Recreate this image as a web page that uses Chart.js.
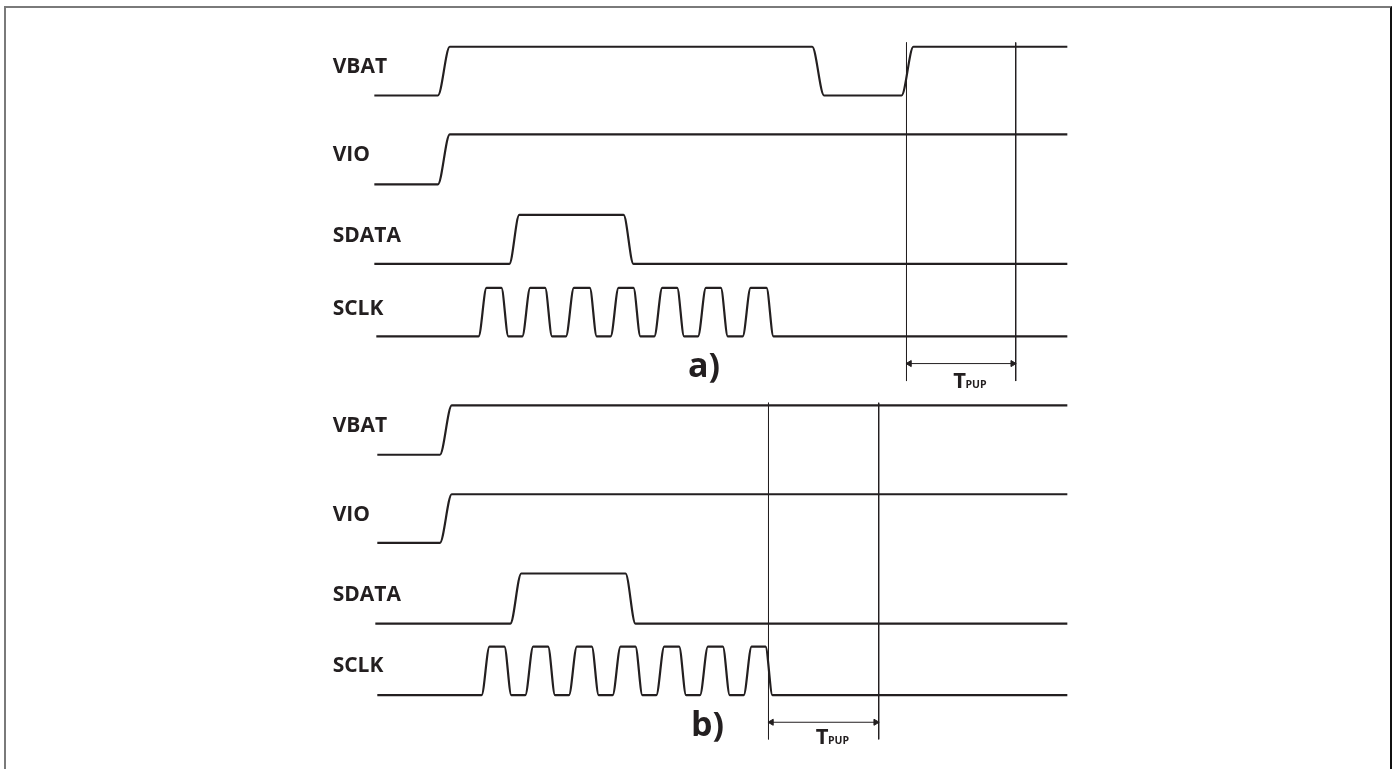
<!DOCTYPE html>
<html>
<head>
<meta charset="utf-8">
<title>Power-up timing</title>
<script src="https://cdn.jsdelivr.net/npm/chart.js@4.4.1/dist/chart.umd.min.js"></script>
<style>
  html, body { margin: 0; padding: 0; background: #fff; overflow: hidden; }
  #wrap { position: relative; width: 1395px; height: 769px; overflow: hidden; }
  #frame {
    position: absolute; left: 4px; top: 6px; width: 1384px; height: 780px;
    border-top: 2px solid #7a7a7a; border-left: 2px solid #7a7a7a; border-right: 2px solid #111;
  }
  canvas { position: absolute; left: 0; top: 0; }
</style>
</head>
<body>
<div id="wrap">
  <div id="frame"></div>
  <canvas id="timing" width="1395" height="769"></canvas>
</div>
<script>
// Signal breakpoints (time) and logic levels (0 = low, 1 = high)
// case a)
var vbatA_t  = [372, 436, 448, 813, 825, 903, 915, 1070];
var vbatA_v  = [0, 0, 1, 1, 0, 0, 1, 1];
var vioA_t   = [372, 436, 448, 1070];
var vioA_v   = [0, 0, 1, 1];
var sdataA_t = [372, 508, 518, 623, 633, 1070];
var sdataA_v = [0, 0, 1, 1, 0, 0];
var sclkA_t  = [374, 477, 485, 500, 507, 521, 529, 544, 551, 565, 573, 589, 596, 610, 618, 633, 640,
                654, 662, 677, 684, 698, 706, 721, 728, 743, 751, 767, 774, 1070];
var sclkA_v  = [0, 0, 1, 1, 0, 0, 1, 1, 0, 0, 1, 1, 0, 0, 1, 1, 0,
                0, 1, 1, 0, 0, 1, 1, 0, 0, 1, 1, 0, 0];
var tpupA    = [908, 1018];

// case b)
var vbatB_t  = [375, 438, 450, 1070];
var vbatB_v  = [0, 0, 1, 1];
var vioB_t   = [375, 438, 450, 1070];
var vioB_v   = [0, 0, 1, 1];
var sdataB_t = [373, 509, 520, 625, 635, 1070];
var sdataB_v = [0, 0, 1, 1, 0, 0];
var sclkB_t  = [375, 480, 488, 503, 510, 524, 532, 547, 554, 568, 576, 591, 598, 612, 620, 635, 642,
                656, 664, 679, 686, 700, 708, 723, 730, 744, 752, 766, 773, 1070];
var sclkB_v  = [0, 0, 1, 1, 0, 0, 1, 1, 0, 0, 1, 1, 0, 0, 1, 1, 0,
                0, 1, 1, 0, 0, 1, 1, 0, 0, 1, 1, 0, 0];
var tpupB    = [769, 880];

var signalNames = ["VBAT", "VIO", "SDATA", "SCLK"];
var caseLabels = ["a)", "b)"];
var tpupLabel = ["T", "PUP"];

// layout: low / high rail of each row (canvas units)
var rowsA = [{ low: 91.7, high: 42.3, text: 62.7 }, { low: 181.7, high: 131, text: 151.7 },
             { low: 262.3, high: 212.7, text: 234 }, { low: 335.7, high: 286.7, text: 308 }];
var rowsB = [{ low: 455.7, high: 405.7, text: 427 }, { low: 545, high: 495.7, text: 516.7 },
             { low: 626.7, high: 576, text: 598 }, { low: 699.3, high: 650, text: 670 }];

var ink = "#231f20";

function signal(times, levels, row) {
    return {
        data: times.map(function (t, i) {
            return { x: t, y: levels[i] ? row.high : row.low };
        }),
        borderColor: ink,
        borderWidth: 2.2,
        pointRadius: 0,
        cubicInterpolationMode: "monotone",
        fill: false
    };
}

function marker(x, top, bottom) {
    return {
        data: [{ x: x, y: top }, { x: x, y: bottom }],
        borderColor: ink,
        borderWidth: 1,
        pointRadius: 0,
        fill: false
    };
}

function arrow(span, y) {
    return {
        data: [{ x: span[0] + 3, y: y }, { x: span[1] - 3, y: y }],
        borderColor: ink,
        backgroundColor: ink,
        borderWidth: 1,
        pointStyle: "triangle",
        pointRadius: 3.5,
        pointRotation: [-90, 90],
        fill: false
    };
}

var datasets = [
    signal(vbatA_t, vbatA_v, rowsA[0]),
    signal(vioA_t, vioA_v, rowsA[1]),
    signal(sdataA_t, sdataA_v, rowsA[2]),
    signal(sclkA_t, sclkA_v, rowsA[3]),
    signal(vbatB_t, vbatB_v, rowsB[0]),
    signal(vioB_t, vioB_v, rowsB[1]),
    signal(sdataB_t, sdataB_v, rowsB[2]),
    signal(sclkB_t, sclkB_v, rowsB[3]),
    marker(tpupA[0], 38, 381),
    marker(tpupA[1], 38, 381),
    marker(tpupB[0], 403, 744),
    marker(tpupB[1], 403, 744),
    arrow(tpupA, 363.3),
    arrow(tpupB, 726.7)
];

// Labels
var labelPlugin = {
    id: "labels",
    afterDatasetsDraw: function (chart) {
        var c = chart.ctx, xs = chart.scales.x, ys = chart.scales.y;
        c.save();
        c.fillStyle = ink;
        c.textAlign = "left";

        c.font = "bold 21px 'Open Sans'";
        c.textBaseline = "middle";
        [rowsA, rowsB].forEach(function (rows) {
            rows.forEach(function (r, i) {
                c.fillText(signalNames[i], xs.getPixelForValue(330), ys.getPixelForValue(r.text));
            });
        });

        c.textBaseline = "alphabetic";
        c.font = "bold 34px 'Open Sans'";
        c.fillText(caseLabels[0], xs.getPixelForValue(688), ys.getPixelForValue(377));
        c.fillText(caseLabels[1], xs.getPixelForValue(691), ys.getPixelForValue(740.5));

        [[955, 388], [816.5, 748.3]].forEach(function (p) {
            var x = xs.getPixelForValue(p[0]), y = ys.getPixelForValue(p[1]);
            c.font = "bold 22px 'Open Sans'";
            c.fillText(tpupLabel[0], x, y);
            var w = c.measureText(tpupLabel[0]).width;
            c.font = "bold 10.5px 'Open Sans'";
            c.fillText(tpupLabel[1], x + w - 0.5, y);
        });
        c.restore();
    }
};

var ctx = document.getElementById("timing").getContext("2d");
var timingChart = new Chart(ctx, {
    type: "line",
    data: { datasets: datasets },
    options: {
        responsive: false,
        animation: false,
        layout: { padding: 0 },
        plugins: { legend: { display: false }, tooltip: { enabled: false } },
        scales: {
            x: { type: "linear", min: 0, max: 1395, display: false },
            y: { type: "linear", min: 0, max: 769, reverse: true, display: false }
        }
    },
    plugins: [labelPlugin]
});
</script>
</body>
</html>
